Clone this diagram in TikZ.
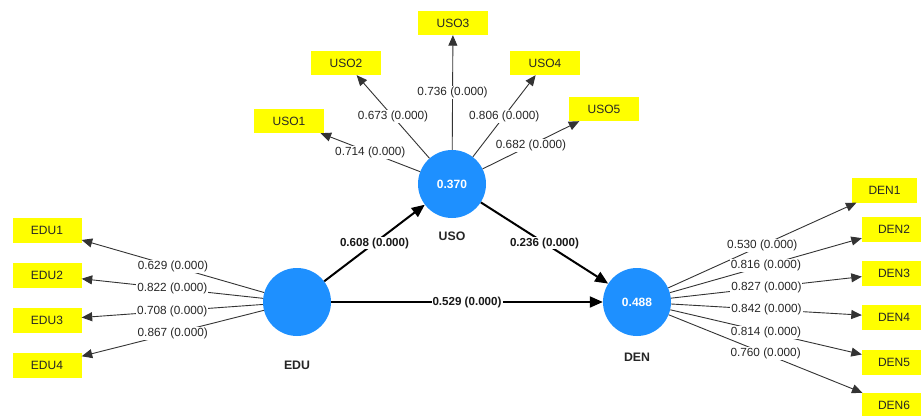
\documentclass[tikz,border=0pt]{standalone}
\usepackage{fontspec}
\setmainfont{Liberation Sans}
\usetikzlibrary{arrows.meta}
\definecolor{lvblue}{RGB}{30,144,255}
\definecolor{indyellow}{RGB}{255,255,0}
\begin{document}
\begin{tikzpicture}[x=1pt,y=-1pt,
  latent/.style={circle,fill=lvblue,minimum size=68pt,inner sep=0pt,text=white,font=\fontsize{12}{14}\selectfont\bfseries},
  ind/.style={fill=indyellow,minimum width=69pt,minimum height=25pt,inner sep=0pt,font=\fontsize{12}{14}\selectfont,text=black!85},
  loadline/.style={draw=black!80,line width=0.9pt,-{Triangle[length=10.5pt,width=9pt]}},
  pathline/.style={draw=black,line width=2pt,-{Triangle[length=13pt,width=11pt]}},
  lbl/.style={fill=white,inner sep=1pt,font=\fontsize{11.8}{13}\selectfont,text=black!85},
  plbl/.style={fill=white,inner sep=1pt,font=\fontsize{11.6}{13}\selectfont\bfseries,text=black!90},
  lvname/.style={font=\fontsize{12.3}{14}\selectfont\bfseries,text=black!85}
]
\clip (0,0) rectangle (921,415);
\fill[white] (0,0) rectangle (921,415);

% latent variables
\node[latent] (EDU) at (297,302) {};
\node[latent] (USO) at (452,184) {0.370};
\node[latent] (DEN) at (637,302) {0.488};
\node[lvname] (EDUn) at (297,365) {EDU};
\node[lvname] (USOn) at (452,236) {USO};
\node[lvname] (DENn) at (637,357) {DEN};

% indicators
\node[ind] (EDU1) at (47,230) {EDU1};
\node[ind] (EDU2) at (47,275) {EDU2};
\node[ind] (EDU3) at (47,320) {EDU3};
\node[ind] (EDU4) at (47,365) {EDU4};
\node[ind,minimum width=70pt,minimum height=24pt] (USO1) at (289,121) {USO1};
\node[ind,minimum width=70pt,minimum height=24pt] (USO2) at (346,63) {USO2};
\node[ind,minimum width=70pt,minimum height=24pt] (USO3) at (453,23) {USO3};
\node[ind,minimum width=70pt,minimum height=24pt] (USO4) at (545,63) {USO4};
\node[ind,minimum width=70pt,minimum height=24pt] (USO5) at (604,109) {USO5};
\node[ind,minimum width=65pt] (DEN1) at (884.5,190) {DEN1};
\node[ind,minimum width=64pt] (DEN2) at (894,229) {DEN2};
\node[ind,minimum width=64pt] (DEN3) at (894,273) {DEN3};
\node[ind,minimum width=64pt] (DEN4) at (894,317) {DEN4};
\node[ind,minimum width=64pt] (DEN5) at (894,362) {DEN5};
\node[ind,minimum width=64pt] (DEN6) at (894,405.5) {DEN6};

% loading lines
\foreach \a/\b in {EDU/EDU1,EDU/EDU2,EDU/EDU3,EDU/EDU4,
                   USO/USO1,USO/USO2,USO/USO3,USO/USO4,USO/USO5,
                   DEN/DEN1,DEN/DEN2,DEN/DEN3,DEN/DEN4,DEN/DEN5,DEN/DEN6}
  \draw[loadline] (\a) -- (\b);

% structural paths
\draw[pathline] (EDU) -- (USO);
\draw[pathline] (USO) -- (DEN);
\draw[pathline] (EDU) -- (DEN);

% loading labels
\foreach \a/\b/\v in {EDU/EDU1/0.629,EDU/EDU2/0.822,EDU/EDU3/0.708,EDU/EDU4/0.867,
                      USO/USO1/0.714,USO/USO2/0.673,USO/USO3/0.736,USO/USO4/0.806,USO/USO5/0.682,
                      DEN/DEN1/0.530,DEN/DEN2/0.816,DEN/DEN3/0.827,DEN/DEN4/0.842,DEN/DEN5/0.814,DEN/DEN6/0.760}
  \path (\a) -- (\b) node[lbl,pos=0.5] {\v\ (0.000)};

% path labels
\path (EDU) -- (USO) node[plbl,pos=0.5] {0.608 (0.000)};
\path (USO) -- (DEN) node[plbl,pos=0.5] {0.236 (0.000)};
\path (EDU) -- (DEN) node[plbl,pos=0.5] {0.529 (0.000)};
\end{tikzpicture}
\end{document}
